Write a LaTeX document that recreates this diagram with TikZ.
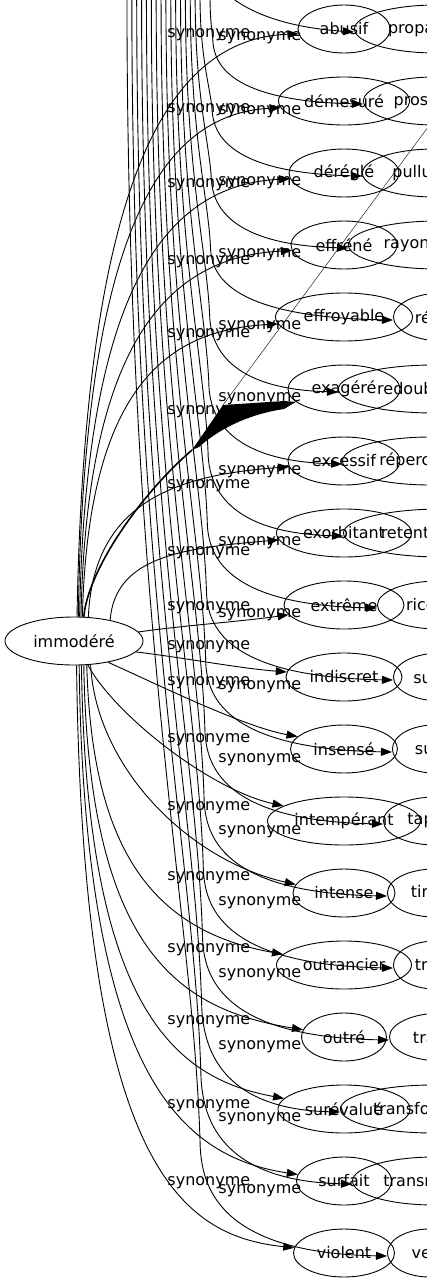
\documentclass[tikz,border=0pt]{standalone}
\usepackage{fontspec}
\setmainfont{DejaVu Sans}
\usetikzlibrary{arrows.meta, shapes.geometric, calc}

\tikzset{
  word/.style={draw, ellipse, inner sep=0pt, minimum height=48pt},
  rel/.style={inner sep=0pt, anchor=west},
  syn/.style={-{Triangle[length=11pt, width=8pt]}},
}

\begin{document}
\begin{tikzpicture}[x=1pt, y=-1pt, line width=0.9pt, font=\fontsize{16}{19}\selectfont]
\useasboundingbox (0,0) rectangle (427,1283);
\clip (0,0) rectangle (427,1283);

% source word
\node[word, minimum width=138pt] (imm) at (74,641) {immodéré};

% middle column
\foreach \w/\d [count=\i] in {abusif/92, démesuré/131, déréglé/110, effréné/106,
    effroyable/137, exagéré/112, excessif/112, exorbitant/135, extrême/120,
    indiscret/116, insensé/107, intempérant/153, intense/102, outrancier/135,
    outré/85, surévalué/132, surfait/95, violent/101}
  \node[word, minimum width=\d pt] (m\i) at (344,{29+72*(\i-1)}) {\w};

% right column, cut by the frame
\foreach \w/\lx/\d [count=\i] in {propagation/354/164, prospérité/363/142,
    pullulation/362/144, rayonnement/348/178, récolte/393/98, redoublement/338/190,
    répercussion/342/176, retentissement/343/196, ricochet/377/122, succès/393/94,
    suite/392/84, tapage/383/104, tirage/387/94, trace/393/84, traînée/389/104,
    transformation/340/184, transmission/352/164, vent/387/84}
  \node[word, minimum width=\d pt, anchor=west] (r\i) at (\lx,{29+72*(\i-1)}) {\w};

% immodéré -> middle column
\foreach \i/\sa/\ea/\ax/\ay/\bx/\by in {1/83/186/8/-440/-130/5, 2/80/186/6/-402/-112/6,
    3/77/186/6/-346/-115/6, 4/74/186/6/-290/-114/6, 5/71/186/6/-234/-108/6,
    7/59/186/5/-117/-110/8, 8/30/186/5/-65/-92/8, 9/8/190/50/-7/-50/7,
    10/-10/175/50/6/-50/-4, 11/-32/165/45/20/-55/-10, 12/-60/166/27/50/-73/-16,
    13/-55/170/5/100/-110/-25, 14/-62/170/5/180/-134/-24, 15/-68/170/5/290/-121/-20,
    16/-73/170/5/346/-108/-20, 17/-78/172/5/408/-118/-18, 18/-84/174/6/500/-114/-12}
  \draw[syn] (imm.\sa) .. controls +(\ax,\ay) and +(\bx,\by) .. (m\i.\ea);

% edges from above -> right column
\coordinate (top1) at (205,-40);
\draw[syn] (top1) .. controls (212,-10) and (250,25) .. ([yshift=-3pt]r1.west);
\foreach \i in {2,...,18}{
  \pgfmathsetmacro\yy{29+72*(\i-1)}
  \pgfmathsetmacro\xa{ifthenelse(\i==2,210,200-(\i-3)*4.87)}
  \pgfmathsetmacro\xb{213-0.8*(\i-2)}
  \pgfmathsetmacro\hh{58+3*(\i-2)}
  \pgfmathsetmacro\yb{\yy-\hh}
  \coordinate (top\i) at (\xa,-5);
  \draw[syn] (top\i) .. controls (\xa,{0.55*\yb}) and ({\xb-0.08*(\xb-\xa)},{0.8*\yb}) .. (\xb,\yb)
    .. controls ({\xb+2},{\yb+0.35*\hh}) and ({\xb+16},\yy) .. ([yshift=-3pt]r\i.west);
}

% edge labels
\foreach \y [count=\i] in {35,110,185,262,335,412,486,553,608,647,683,740,808,878,950,1022,1106,1183}
  \node[rel] (a\i) at (167,\y) {synonyme};
\foreach \y [count=\i] in {38,112,183,255,327,399,472,543,615,687,760,832,903,975,1047,1119,1191}
  \node[rel] (b\i) at (218,\y) {synonyme};

% immodéré -> exagéré, drawn as a wedge
\coordinate (bend6) at (192,450);
\coordinate (kink) at (223,405);
\coordinate (away) at (445,104);
\draw[line width=1.6pt] (imm.68) .. controls (88,570) and (140,495) .. (bend6);
\fill (bend6) -- (kink) -- (284,401) -- (m6.195) -- (284,409)
  .. controls (250,414) and (220,428) .. (199,447) -- cycle;
\draw[line width=0.4pt] (kink) -- (away);
\end{tikzpicture}
\end{document}
